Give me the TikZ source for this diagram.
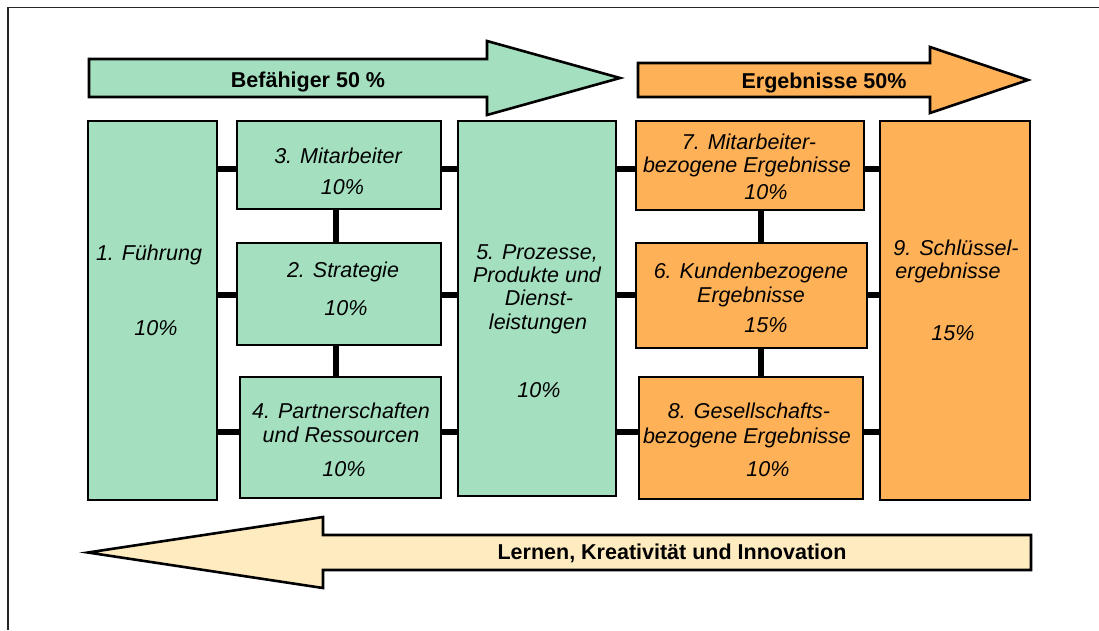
\documentclass[tikz,border=0pt]{standalone}
\usepackage{fontspec}
\setmainfont{Liberation Sans}
\definecolor{enabler}{HTML}{A4E0C0}
\definecolor{result}{HTML}{FFB157}
\definecolor{learn}{HTML}{FFEBC0}
\begin{document}
\begin{tikzpicture}[x=1pt,y=-1pt,
  gbox/.style={draw=black, line width=2.6pt, fill=enabler, inner sep=0pt},
  obox/.style={draw=black, line width=2.6pt, fill=result, inner sep=0pt},
  bigarrow/.style={draw=black, line width=2.6pt, line join=miter},
  link/.style={draw=black, line width=6.5pt},
  itxt/.style={font=\fontsize{21.5}{24}\selectfont\itshape, inner sep=0pt, anchor=base},
  btxt/.style={font=\fontsize{21.5}{24}\selectfont\bfseries, inner sep=0pt, anchor=base},
  frameline/.style={draw=black!85, line width=1.5pt}]
\useasboundingbox (0,0) rectangle (1099,630);

% outer frame
\draw[frameline] (8,630) -- (8,7.5) -- (1099,7.5);

% top arrows
\draw[bigarrow, fill=enabler] (89,59) -- (487,59) -- (487,41) -- (620,78)
  -- (487,115) -- (487,97) -- (89,97) -- cycle;
\node[btxt] (enablers) at (308,87) {Befähiger 50 \%};
\draw[bigarrow, fill=result] (638,63) -- (930,63) -- (930,47) -- (1028,80)
  -- (930,113) -- (930,97) -- (638,97) -- cycle;
\node[btxt] (results) at (824,88) {Ergebnisse 50\%};

% bottom arrow
\draw[bigarrow, fill=learn] (1031,535) -- (323,535) -- (323,517) -- (88,552.5)
  -- (323,588) -- (323,570) -- (1031,570) -- cycle;
\node[btxt] (learning) at (672,559) {Lernen, Kreativität und Innovation};

% criteria boxes
\node[gbox, minimum width=129, minimum height=379] (b1) at (152.5,310.5) {};
\node[gbox, minimum width=204, minimum height=88]  (b3) at (339,165) {};
\node[gbox, minimum width=204, minimum height=102] (b2) at (339,294) {};
\node[gbox, minimum width=201, minimum height=121] (b4) at (340.5,437.5) {};
\node[gbox, minimum width=158, minimum height=375] (b5) at (537,308.5) {};
\node[obox, minimum width=228, minimum height=89]  (b7) at (750,165.5) {};
\node[obox, minimum width=231, minimum height=105] (b6) at (751.5,295.5) {};
\node[obox, minimum width=224, minimum height=122] (b8) at (751,438) {};
\node[obox, minimum width=150, minimum height=379] (b9) at (955,310.5) {};

% connector rows and columns
\coordinate (r1) at (0,169);
\coordinate (r2) at (0,295);
\coordinate (r3) at (0,432);
\coordinate (v1) at (336,0);
\coordinate (v2) at (761,0);

\draw[link] (b1.east |- r1) -- (b3.west |- r1);
\draw[link] (b3.east |- r1) -- (b5.west |- r1);
\draw[link] (b1.east |- r2) -- (b2.west |- r2);
\draw[link] (b2.east |- r2) -- (b5.west |- r2);
\draw[link] (b1.east |- r3) -- (b4.west |- r3);
\draw[link] (b4.east |- r3) -- (b5.west |- r3);
\draw[link] (b3.south -| v1) -- (b2.north -| v1);
\draw[link] (b2.south -| v1) -- (b4.north -| v1);

\draw[link] (b5.east |- r1) -- (b7.west |- r1);
\draw[link] (b7.east |- r1) -- (b9.west |- r1);
\draw[link] (b5.east |- r2) -- (b6.west |- r2);
\draw[link] (b6.east |- r2) -- (b9.west |- r2);
\draw[link] (b5.east |- r3) -- (b8.west |- r3);
\draw[link] (b8.east |- r3) -- (b9.west |- r3);
\draw[link] (b7.south -| v2) -- (b6.north -| v2);
\draw[link] (b6.south -| v2) -- (b8.north -| v2);

% box texts
\node[itxt] (t1a) at (149,260) {1. Führung};
\node[itxt] (t1b) at (156,335) {10\%};

\node[itxt] (t3a) at (338,163) {3. Mitarbeiter};
\node[itxt] (t3b) at (342.5,194) {10\%};

\node[itxt] (t2a) at (343,277) {2. Strategie};
\node[itxt] (t2b) at (346,315) {10\%};

\node[itxt] (t4a) at (341,418) {4. Partnerschaften};
\node[itxt] (t4b) at (341,442) {und Ressourcen};
\node[itxt] (t4c) at (344,476) {10\%};

\node[itxt] (t5a) at (537,259) {5. Prozesse,};
\node[itxt] (t5b) at (537,282) {Produkte und};
\node[itxt] (t5c) at (539,305) {Dienst-};
\node[itxt] (t5d) at (538,329) {leistungen};
\node[itxt] (t5e) at (539,397) {10\%};

\node[itxt] (t7a) at (749,149) {7. Mitarbeiter-};
\node[itxt] (t7b) at (747,172) {bezogene Ergebnisse};
\node[itxt] (t7c) at (766,199) {10\%};

\node[itxt] (t6a) at (751,278) {6. Kundenbezogene};
\node[itxt] (t6b) at (751,302) {Ergebnisse};
\node[itxt] (t6c) at (766,332) {15\%};

\node[itxt] (t8a) at (749,418) {8. Gesellschafts-};
\node[itxt] (t8b) at (747,443) {bezogene Ergebnisse};
\node[itxt] (t8c) at (768,476) {10\%};

\node[itxt] (t9a) at (956,255) {9. Schlüssel-};
\node[itxt] (t9b) at (948,278) {ergebnisse};
\node[itxt] (t9c) at (953,340) {15\%};
\end{tikzpicture}
\end{document}
